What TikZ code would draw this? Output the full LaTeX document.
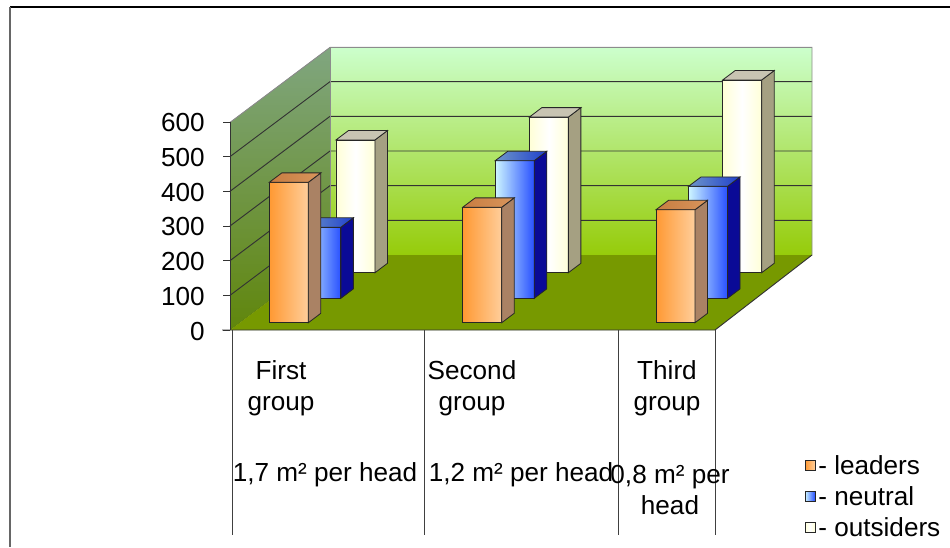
\documentclass[tikz,border=0pt]{standalone}
\usepackage{fontspec}
\setmainfont{Liberation Sans}
\usetikzlibrary{positioning, calc}
\definecolor{wallTop}{RGB}{204, 255, 204}
\definecolor{wallMid}{RGB}{178, 228, 150}
\definecolor{wallBottom}{RGB}{150, 204, 10}
\definecolor{sideTop}{RGB}{128, 166, 128}
\definecolor{sideBottom}{RGB}{96, 134, 12}
\definecolor{floorGreen}{RGB}{119, 153, 0}
\definecolor{leaderDark}{RGB}{255, 153, 51}
\definecolor{leaderLight}{RGB}{255, 206, 155}
\definecolor{leaderSide}{RGB}{170, 130, 100}
\definecolor{leaderTop}{RGB}{200, 125, 65}
\definecolor{neutralLight}{RGB}{205, 245, 255}
\definecolor{neutralDark}{RGB}{40, 80, 255}
\definecolor{neutralSide}{RGB}{10, 10, 150}
\definecolor{neutralTop}{RGB}{110, 150, 200}
\definecolor{outsiderLight}{RGB}{255, 255, 215}
\definecolor{outsiderSide}{RGB}{165, 160, 130}
\definecolor{outsiderTop}{RGB}{200, 196, 178}

\tikzset{
  txt/.style={font=\fontsize{19.6}{23.3}\selectfont, inner sep=0pt, align=center},
  barline/.style={draw=black!85, line width=0.6pt},
  leaders front/.style={barline, left color=leaderDark, right color=leaderLight},
  leaders side/.style={barline, fill=leaderSide},
  leaders top/.style={barline, left color=leaderTop, right color=leaderTop!70!leaderLight},
  neutral front/.style={barline, left color=neutralLight, right color=neutralDark},
  neutral side/.style={barline, fill=neutralSide},
  neutral top/.style={barline, left color=neutralTop, right color=neutralDark!80!black},
  outsiders front/.style={barline, left color=outsiderLight, right color=outsiderLight, middle color=white},
  outsiders side/.style={barline, fill=outsiderSide},
  outsiders top/.style={barline, fill=outsiderTop},
  legbox/.style={draw=black, line width=1pt, minimum size=7.5pt, inner sep=0pt},
}

% #1 x at front plane, #2 depth of row, #3 value, #4 series
\newcommand{\chartbar}[4]{%
  \pgfmathsetmacro{\bx}{#1+1.333*#2}
  \pgfmathsetmacro{\by}{330-#2}
  \pgfmathsetmacro{\bt}{\by-0.3467*#3}
  \draw[#4 front] (\bx,\by) rectangle (\bx+39,\bt);
  \draw[#4 side] (\bx+39,\by) -- (\bx+51.5,\by-9.4) -- (\bx+51.5,\bt-9.4) -- (\bx+39,\bt) -- cycle;
  \draw[#4 top] (\bx,\bt) -- (\bx+12.5,\bt-9.4) -- (\bx+51.5,\bt-9.4) -- (\bx+39,\bt) -- cycle;
}

\begin{document}
\begin{tikzpicture}[x=0.75pt, y=-0.75pt]
    \useasboundingbox (0,0) rectangle (950,547);
    % frame
    \draw[black, line width=1.5pt] (10,7) -- (950,7);
    \draw[black!60, line width=1.5pt] (10,7) -- (10,547);

    % walls and floor
    \fill[top color=wallTop, middle color=wallMid, bottom color=wallBottom] (330,47.4) rectangle (812,255);
    \fill[top color=sideTop, bottom color=sideBottom] (230,330) -- (230,122.4) -- (330,47.4) -- (330,255) -- cycle;
    \foreach \v in {1,...,5}
        \draw[black!80, line width=0.7pt] (230,330-34.67*\v) -- (330,255-34.67*\v) -- (812,255-34.67*\v);
    \draw[black!45, line width=0.7pt] (230,122.4) -- (330,47.4) -- (812,47.4) -- (812,255);
    \draw[black!45, line width=0.7pt] (330,47.4) -- (330,255);
    \fill[floorGreen] (230,330) -- (715,330) -- (812,255) -- (330,255) -- cycle;
    \draw[black!80, line width=0.7pt] (222,330) -- (715,330) -- (812,255);

    % bars, back row first
    \foreach \cx/\v in {259.6/383, 453/449, 646.3/556}
        \chartbar{\cx}{57.3}{\v}{outsiders};
    \foreach \cx/\v in {259.6/205, 453/397, 646.3/323}
        \chartbar{\cx}{31.7}{\v}{neutral};
    \foreach \cx/\v in {259.6/405, 453/333, 646.3/326}
        \chartbar{\cx}{7.3}{\v}{leaders};

    % value axis
    \draw[black!80, line width=0.7pt] (230,330) -- (230,122.4);
    \foreach \v in {0,...,6} {
        \draw[black!80, line width=0.7pt] (223,330-34.67*\v) -- (230,330-34.67*\v);
        \pgfmathtruncatemacro{\val}{100*\v}
        \node[txt, anchor=east] (tick\v) at (205,331-34.67*\v) {\val};
    }

    % table below the chart
    \foreach \tx in {232, 424, 618, 715}
        \draw[black!75, line width=0.7pt] (\tx,330) -- (\tx,535);
    \node[txt] (grp1) at (281,388) {First\\group};
    \node[txt] (grp2) at (472,388) {Second\\group};
    \node[txt] (grp3) at (667,388) {Third\\group};
    \node[txt] (area1) at (325,475) {1,7 m² per head};
    \node[txt] (area2) at (521,475) {1,2 m² per head};
    \node[txt] (area3) at (670,490) {0,8 m² per\\head};

    % legend
    \node[legbox, leaders front] (key1) at (810,465) {};
    \node[legbox, neutral front] (key2) at (810,496) {};
    \node[legbox, outsiders front] (key3) at (810,527) {};
    \node[txt, right=2pt of key1] (lab1) {- leaders};
    \node[txt, right=2pt of key2] (lab2) {- neutral};
    \node[txt, right=2pt of key3] (lab3) {- outsiders};
\end{tikzpicture}
\end{document}
